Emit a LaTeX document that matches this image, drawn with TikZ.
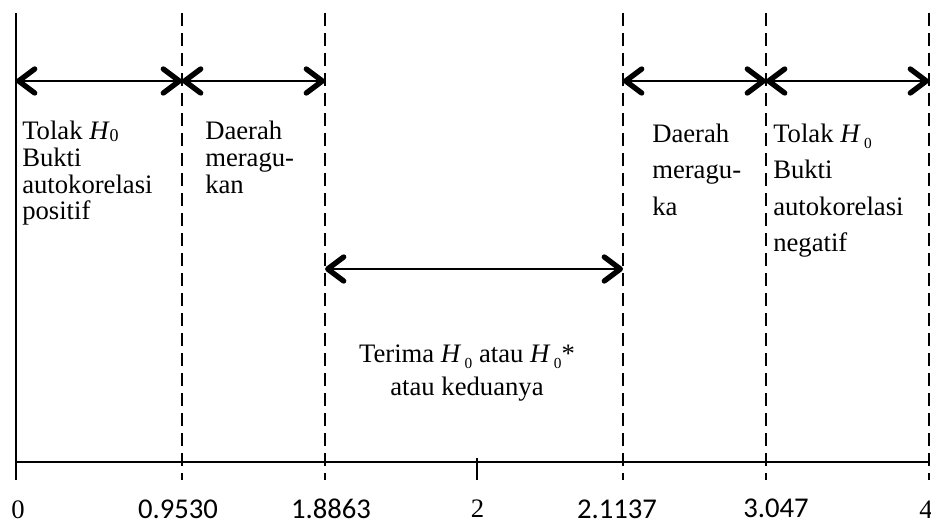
\documentclass[tikz,border=0pt]{standalone}
\usepackage{fontspec}
\setmainfont{Liberation Serif}
\newfontfamily\tnr{Liberation Serif}
\newfontfamily\numfont{Carlito}
\usetikzlibrary{arrows.meta}
\newcommand{\HzA}{\textit{H}\raisebox{-1.5pt}{\fontsize{13.5}{13.5}\selectfont 0}}
\newcommand{\HzB}{\textit{H}\hspace{2.5pt}\raisebox{-4.5pt}{\fontsize{11.5}{11.5}\selectfont 0}}
\begin{document}
\begin{tikzpicture}[x=0.75pt,y=-0.75pt,
  vline/.style={line width=1.1pt, dash pattern=on 10pt off 5pt},
  sline/.style={line width=1.5pt},
  tickline/.style={line width=1.1pt},
  barb/.tip={Straight Barb[length=12pt,width=18pt,line width=4pt,round]},
  dbl/.style={line width=1.7pt, barb-barb},
  txt/.style={inner sep=0pt, anchor=base west, font=\tnr\fontsize{20}{20}\selectfont},
  ctxt/.style={inner sep=0pt, anchor=base, font=\tnr\fontsize{20}{20}\selectfont},
  serifnum/.style={inner sep=0pt, anchor=base, font=\tnr\fontsize{20}{20}\selectfont},
  sansnum/.style={inner sep=0pt, anchor=base, font=\numfont\fontsize{21.5}{21.5}\selectfont}]
\useasboundingbox (0,0) rectangle (931,524);
\foreach \n/\x in {0/16,1/182,2/325,3/623,4/766,5/929}{
  \coordinate (t\n) at (\x,13);
  \coordinate (b\n) at (\x,480);
  \coordinate (a\n) at (\x,81);
}
\draw[sline] (t0) -- (b0);
\foreach \n in {1,...,5}{\draw[vline] (t\n) -- (b\n);}
% axis
\coordinate (ax0) at (16,461.5);
\coordinate (ax5) at (929,461.5);
\draw[sline] (ax0) -- (ax5);
\coordinate (k2t) at (477,458);
\coordinate (k2b) at (477,480);
\draw[tickline] (k2t) -- (k2b);
% arrows
\draw[dbl] (a0) -- (a1);
\draw[dbl] (a1) -- (a2);
\draw[dbl] (a3) -- (a4);
\draw[dbl] (a4) -- (a5);
\coordinate (m2) at (325,269);
\coordinate (m3) at (623,269);
\draw[dbl] (m2) -- (m3);
% region 1
\node[txt] (p1) at (22,140) {Tolak \HzA};
\node[txt] (p2) at (22,166.5) {Bukti};
\node[txt] (p3) at (22,193) {autokorelasi};
\node[txt] (p4) at (22,219.5) {positif};
% region 2
\node[txt] (r1) at (205,140) {Daerah};
\node[txt] (r2) at (205,166.5) {meragu-};
\node[txt] (r3) at (205,193) {kan};
% region 4
\node[txt] (s1) at (652,143) {Daerah};
\node[txt] (s2) at (652,179) {meragu-};
\node[txt] (s3) at (652,215) {ka};
% region 5
\node[txt] (q1) at (773,143) {Tolak \HzB};
\node[txt] (q2) at (773,179) {Bukti};
\node[txt] (q3) at (773,215) {autokorelasi};
\node[txt] (q4) at (773,251) {negatif};
% middle
\node[ctxt] (c1) at (467,362) {Terima \HzB{} atau \HzB*};
\node[ctxt] (c2) at (467,395) {atau keduanya};
% axis labels
\node[serifnum] (n0) at (18,518) {0};
\node[sansnum] (n1) at (178,518) {0.9530};
\node[sansnum] (n2) at (331,518) {1.8863};
\node[serifnum] (n3) at (477.5,517) {2};
\node[sansnum] (n4) at (617,518) {2.1137};
\node[sansnum] (n5) at (776,517) {3.047};
\node[serifnum] (n6) at (926,518) {4};
\end{tikzpicture}
\end{document}
